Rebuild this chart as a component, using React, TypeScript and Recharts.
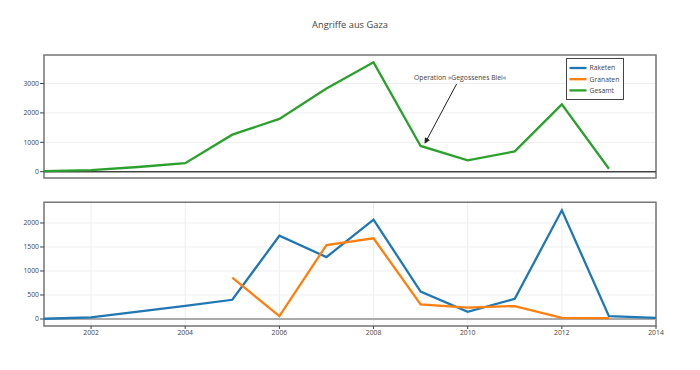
import {
  LineChart,
  Line,
  XAxis,
  YAxis,
  CartesianGrid,
  ReferenceLine,
  ReferenceArea,
  ReferenceDot,
  Legend,
} from "recharts";

const years = [2001, 2002, 2003, 2004, 2005, 2006, 2007, 2008, 2009, 2010, 2011, 2012, 2013, 2014];
const raketen = [5, 35, 155, 275, 400, 1735, 1290, 2070, 570, 150, 420, 2265, 60, 25];
const granaten = [null, null, null, null, 860, 60, 1540, 1680, 305, 235, 270, 25, 20, null];
const gesamt = [20, 55, 160, 290, 1260, 1795, 2830, 3720, 875, 385, 690, 2290, 100, null];

const xTicks = [2002, 2004, 2006, 2008, 2010, 2012, 2014];
const topTicks = [0, 1000, 2000, 3000];
const bottomTicks = [0, 500, 1000, 1500, 2000];

const series = [
  { key: "raketen", name: "Raketen", color: "#1f77b4" },
  { key: "granaten", name: "Granaten", color: "#ff7f0e" },
  { key: "gesamt", name: "Gesamt", color: "#2ca02c" },
];

const annotationYear = 2009;
const annotationText = "Operation »Gegossenes Blei«";

const X_DOMAIN = [2001, 2014];
const TOP_DOMAIN = [-215, 3970];
const BOTTOM_DOMAIN = [-146, 2431];

const FONT = "'Open Sans', sans-serif";
const tickStyle = { fill: "#444", fontSize: 6.8, fontFamily: FONT };

const data = years.map((y, i) => ({
  year: y,
  raketen: raketen[i],
  granaten: granaten[i],
  gesamt: gesamt[i],
}));

const AnnotationShape = (props: any) => {
  const { cx, cy } = props;
  if (cx == null || cy == null) return null;
  return (
    <g>
      <defs>
        <marker id="arrowhead" markerWidth="6" markerHeight="6" refX="5" refY="3" orient="auto" markerUnits="userSpaceOnUse">
          <path d="M0,0 L6,3 L0,6 Z" fill="#222" />
        </marker>
      </defs>
      <line x1={cx + 36} y1={cy - 62} x2={cx + 4.5} y2={cy - 3} stroke="#222" strokeWidth={1} markerEnd="url(#arrowhead)" />
      <text x={cx + 39.5} y={cy - 66} textAnchor="middle" fill="#444" fontSize={6.8} fontFamily={FONT}>
        {annotationText}
      </text>
    </g>
  );
};

const LegendBox = () => (
  <svg width={58} height={42} style={{ display: "block" }}>
    <rect x={0.5} y={0.5} width={57} height={41} fill="#fff" stroke="#444" strokeWidth={1} />
    {series.map((s, i) => (
      <g key={s.key}>
        <line x1={3.5} x2={20.5} y1={10 + i * 11.2} y2={10 + i * 11.2} stroke={s.color} strokeWidth={2.3} />
        <text x={23.5} y={10 + i * 11.2 + 2.4} fill="#444" fontSize={6.8} fontFamily={FONT}>
          {s.name}
        </text>
      </g>
    ))}
  </svg>
);

export default function App() {
  const gesamtPoint = gesamt[years.indexOf(annotationYear)];
  return (
    <div style={{ position: "absolute", left: 0, top: 0, width: 700, height: 370, background: "#fff", fontFamily: FONT }}>
      <div style={{ position: "absolute", left: 0, top: 18, width: 700, textAlign: "center", fontSize: 9.3, color: "#444", lineHeight: "13px" }}>
        Angriffe aus Gaza
      </div>

      <div style={{ position: "absolute", left: 0, top: 0 }}>
        <LineChart width={700} height={190} data={data} margin={{ top: 55, right: 44, bottom: 12, left: 0 }}>
          <CartesianGrid stroke="#eee" strokeWidth={1} />
          <XAxis dataKey="year" type="number" domain={X_DOMAIN} ticks={xTicks} tick={false} tickLine={false} axisLine={false} height={0} allowDataOverflow />
          <YAxis type="number" domain={TOP_DOMAIN} ticks={topTicks} width={44} tick={tickStyle} tickSize={4} tickMargin={1} tickLine={{ stroke: "#444" }} axisLine={false} allowDataOverflow />
          <ReferenceLine y={0} stroke="#444" strokeWidth={1.5} />
          <ReferenceArea x1={X_DOMAIN[0]} x2={X_DOMAIN[1]} y1={TOP_DOMAIN[0]} y2={TOP_DOMAIN[1]} fill="none" stroke="#777" strokeWidth={1.5} fillOpacity={0} />
          <Line dataKey="gesamt" name="Gesamt" stroke="#2ca02c" strokeWidth={2.3} dot={false} isAnimationActive={false} />
          <ReferenceDot x={annotationYear} y={gesamtPoint} r={0} shape={AnnotationShape} />
          <Legend layout="vertical" align="center" verticalAlign="middle" content={() => <LegendBox />} wrapperStyle={{ left: 565.5, top: 57.5, width: 58, height: 42 }} />
        </LineChart>
      </div>

      <div style={{ position: "absolute", left: 0, top: 190 }}>
        <LineChart width={700} height={180} data={data} margin={{ top: 12.3, right: 44, bottom: 24, left: 0 }}>
          <CartesianGrid stroke="#eee" strokeWidth={1} />
          <XAxis dataKey="year" type="number" domain={X_DOMAIN} ticks={xTicks} tick={tickStyle} tickSize={3} tickMargin={1} tickLine={{ stroke: "#444" }} axisLine={false} height={20} allowDataOverflow />
          <YAxis type="number" domain={BOTTOM_DOMAIN} ticks={bottomTicks} width={44} tick={tickStyle} tickSize={4} tickMargin={1} tickLine={{ stroke: "#444" }} axisLine={false} allowDataOverflow />
          <ReferenceLine y={0} stroke="#aaa" strokeWidth={2} />
          <ReferenceArea x1={X_DOMAIN[0]} x2={X_DOMAIN[1]} y1={BOTTOM_DOMAIN[0]} y2={BOTTOM_DOMAIN[1]} fill="none" stroke="#777" strokeWidth={1.5} fillOpacity={0} />
          <Line dataKey="raketen" name="Raketen" stroke="#1f77b4" strokeWidth={2.3} dot={false} isAnimationActive={false} />
          <Line dataKey="granaten" name="Granaten" stroke="#ff7f0e" strokeWidth={2.3} dot={false} isAnimationActive={false} />
        </LineChart>
      </div>
    </div>
  );
}
